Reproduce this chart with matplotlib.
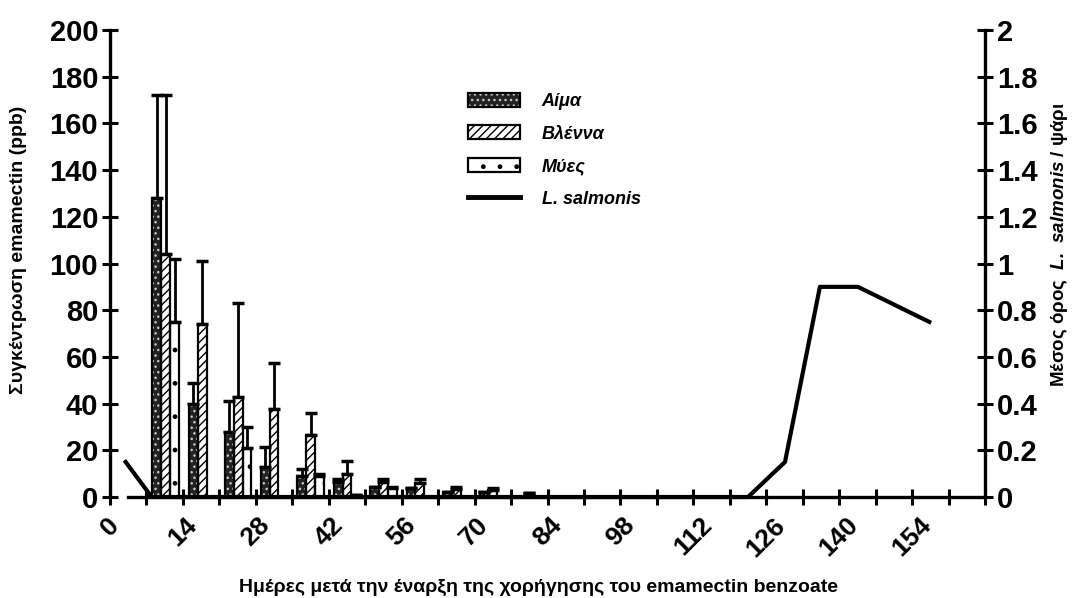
import numpy as np
import matplotlib
matplotlib.use('Agg')
import matplotlib.pyplot as plt
from matplotlib.patches import Patch
from matplotlib.lines import Line2D
from matplotlib.legend_handler import HandlerTuple

plt.rcParams['font.family'] = ['Liberation Sans', 'DejaVu Sans']
plt.rcParams['mathtext.fontset'] = 'custom'
plt.rcParams['mathtext.bfit'] = 'Liberation Sans:bold:italic'
plt.rcParams['mathtext.rm'] = 'Liberation Sans:bold'

# sampling days (group centres) and concentrations (ppb)
days = [10.7, 17.7, 24.6, 31.5, 38.5, 45.5, 52.5, 59.5, 66.5, 73.5, 80.5]
blood = [128, 40, 28, 13, 9, 6.5, 4.4, 3.8, 2, 2, 0]
blood_err = [44, 9, 13, 8.5, 3, 1, 0, 0, 0, 0, 0]
mucus = [104, 74, 43, 37.5, 26.5, 10, 6.6, 5.9, 3.6, 3.2, 1.5]
mucus_err = [68, 27, 40, 20, 9.3, 5.5, 1.1, 1.8, 0.6, 0.5, 0]
muscle = [75, 0, 21, 0, 9, 1, 3.8, 0, 0, 0, 0]
muscle_err = [27, 0, 9, 0, 1, 0, 0.6, 0, 0, 0, 0]

# L. salmonis per fish
lice_days = [3, 8, 15, 22, 29, 36, 43, 50, 57, 64, 71, 78, 85, 92, 99, 106, 113, 122.5, 129.6, 136.3, 143.6, 157.3]
lice = [0.15, 0, 0, 0, 0, 0, 0, 0, 0, 0, 0, 0, 0, 0, 0, 0, 0, 0, 0.15, 0.9, 0.9, 0.75]

fig = plt.figure(figsize=(10.86, 5.98), dpi=100)
ax = fig.add_axes([0.1013, 0.1689, 0.8057, 0.7809])
ax2 = ax.twinx()

w = 1.7
series = [
    (blood, blood_err, -w, dict(facecolor='#222222', edgecolor='#c8c8c8', hatch='...')),
    (mucus, mucus_err, 0, dict(facecolor='white', edgecolor='black', hatch='////')),
    (muscle, muscle_err, w, dict(facecolor='white', edgecolor='black', hatch='.')),
]
for vals, errs, off, style in series:
    x = np.array([d + off for d, v in zip(days, vals) if v > 0])
    y = np.array([v for v in vals if v > 0])
    e = np.array([er for v, er in zip(vals, errs) if v > 0])
    ax.bar(x, y, width=w, linewidth=0, zorder=2, **style)
    ax.bar(x, y, width=w, fill=False, edgecolor='black', linewidth=1.6, zorder=3)
    ax.errorbar(x, y, yerr=[np.zeros_like(e), e], fmt='none', ecolor='black',
                elinewidth=2, capsize=4.5, capthick=2.5, zorder=4)

ax2.plot(lice_days, lice, color='black', lw=3, clip_on=False, zorder=5)

ax.set_xlim(0, 168)
ax.set_ylim(0, 200)
ax2.set_ylim(0, 2)

ticks = list(range(0, 169, 7))
ax.set_xticks(ticks)
ax.set_xticklabels([str(t) if (t % 14 == 0 and t < 168) else '' for t in ticks],
                   rotation=45, ha='center', va='top', fontsize=19, fontweight='bold')
ax.set_yticks(range(0, 201, 20))
ax.set_yticklabels([str(v) for v in range(0, 201, 20)], fontsize=21, fontweight='bold')
r_ticks = [i * 0.2 for i in range(11)]
ax2.set_yticks(r_ticks)
ax2.set_yticklabels(['%g' % round(t, 1) for t in r_ticks], fontsize=21, fontweight='bold')

for a in (ax, ax2):
    a.tick_params(direction='inout', length=11, width=2.2, pad=3)
    for s in a.spines.values():
        s.set_linewidth(2.4)
    a.spines['top'].set_visible(False)
ax2.spines['left'].set_visible(False)
ax2.spines['bottom'].set_visible(False)
ax.spines['right'].set_visible(False)
ax.spines['bottom'].set_bounds(3.5, 168)
ax.tick_params(axis='x', pad=6)

narrow = ['Liberation Sans Narrow', 'Liberation Sans']
ax.set_ylabel('Συγκέντρωση emamectin (ppb)', family=narrow, fontsize=14, fontweight='bold')
ax.yaxis.set_label_coords(-0.095, 0.53)
ax.set_xlabel('Ημέρες μετά την έναρξη της χορήγησης του emamectin benzoate',
              family=narrow, fontsize=14, fontweight='bold')
ax.xaxis.set_label_coords(0.49, -0.175)
ax2.set_ylabel(r'Μέσος όρος  $\mathbfit{L.\ salmonis}$ / ψάρι', family=narrow,
               fontsize=13.5, fontweight='bold', rotation=90)
ax2.yaxis.set_label_coords(1.073, 0.54)

handles = [
    (Patch(facecolor='#222222', edgecolor='#c8c8c8', hatch='...', linewidth=0),
     Patch(fill=False, edgecolor='black', linewidth=1.6)),
    Patch(facecolor='white', edgecolor='black', hatch='////', linewidth=1.6),
    Patch(facecolor='white', edgecolor='black', hatch='.', linewidth=1.6),
    Line2D([0], [0], color='black', lw=3.5),
]
labels = ['Αίμα', 'Βλέννα', 'Μύες', 'L. salmonis']
ax.legend(handles, labels, loc='upper left', bbox_to_anchor=(0.39, 0.9), frameon=False,
          handler_map={tuple: HandlerTuple(ndivide=1, pad=0)},
          prop={'weight': 'bold', 'style': 'italic', 'size': 13},
          handlelength=2.9, handleheight=0.8, labelspacing=0.85, handletextpad=1.2)

fig.savefig('out.png', dpi=100, facecolor='white')
